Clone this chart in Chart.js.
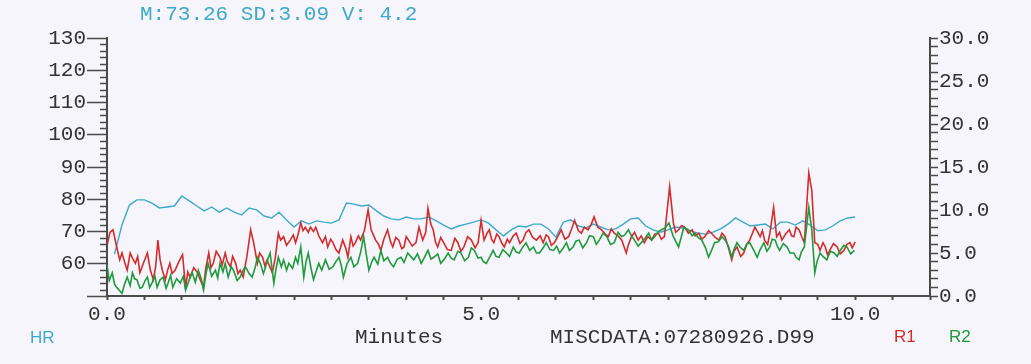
<!DOCTYPE html>
<html>
<head>
<meta charset="utf-8">
<script src="https://cdn.jsdelivr.net/npm/chart.js@4.4.1/dist/chart.umd.min.js"></script>
<style>
  html, body { margin: 0; padding: 0; background: #f5f5fb; }
  canvas { display: block; background: #f5f5fb; }
</style>
</head>
<body>
<canvas id="hr-chart" width="1031" height="364"></canvas>
<script>
// heart rate (left axis, bpm), one reading every 0.1 min
const hrTimes = [
  0.1, 0.2, 0.3, 0.4, 0.5, 0.6, 0.7, 0.8, 0.9, 1.0,
  1.1, 1.2, 1.3, 1.4, 1.5, 1.6, 1.7, 1.8, 1.9, 2.0,
  2.1, 2.2, 2.3, 2.4, 2.5, 2.6, 2.7, 2.8, 2.9, 3.0,
  3.1, 3.2, 3.3, 3.4, 3.5, 3.6, 3.7, 3.8, 3.9, 4.0,
  4.1, 4.2, 4.3, 4.4, 4.5, 4.6, 4.7, 4.8, 4.9, 5.0,
  5.1, 5.2, 5.3, 5.4, 5.5, 5.6, 5.7, 5.8, 5.9, 6.0,
  6.1, 6.2, 6.3, 6.4, 6.5, 6.6, 6.7, 6.8, 6.9, 7.0,
  7.1, 7.2, 7.3, 7.4, 7.5, 7.6, 7.7, 7.8, 7.9, 8.0,
  8.1, 8.2, 8.3, 8.4, 8.5, 8.6, 8.7, 8.8, 8.9, 9.0,
  9.1, 9.2, 9.3, 9.4, 9.5, 9.6, 9.7, 9.8, 9.9, 10.0
];
const hrValues = [
  63.0, 72.0, 78.2, 79.8, 79.8, 78.8, 77.3, 77.6, 77.9, 81.0,
  79.5, 77.9, 76.4, 77.6, 76.0, 77.3, 76.0, 75.1, 77.3, 76.7,
  74.8, 74.2, 76.0, 73.6, 71.4, 73.3, 72.3, 73.3, 72.9, 72.6,
  73.6, 78.8, 78.5, 77.9, 78.2, 76.4, 74.8, 73.9, 73.6, 74.5,
  73.9, 73.9, 74.5, 73.3, 72.0, 70.8, 71.7, 72.3, 72.9, 73.6,
  72.6, 70.5, 68.6, 70.5, 71.7, 71.4, 72.3, 72.3, 70.8, 68.3,
  72.9, 73.6, 71.7, 71.1, 72.3, 71.4, 70.5, 70.8, 72.3, 73.9,
  74.2, 71.7, 70.5, 69.8, 70.5, 71.4, 71.1, 70.2, 69.5, 69.2,
  69.8, 70.8, 72.3, 74.2, 72.9, 71.7, 72.0, 72.3, 70.8, 72.9,
  72.9, 72.0, 73.3, 72.0, 70.2, 70.5, 71.7, 73.3, 74.2, 74.5
];

// R1 (right axis)
const r1Times = [
  0.00, 0.04, 0.08, 0.13, 0.17, 0.20, 0.24, 0.27, 0.31, 0.34,
  0.38, 0.41, 0.44, 0.49, 0.54, 0.58, 0.62, 0.65, 0.68, 0.71,
  0.74, 0.78, 0.81, 0.84, 0.87, 0.91, 0.96, 1.01, 1.05, 1.08,
  1.11, 1.16, 1.21, 1.25, 1.29, 1.32, 1.36, 1.39, 1.42, 1.46,
  1.51, 1.54, 1.58, 1.61, 1.65, 1.68, 1.72, 1.75, 1.78, 1.82,
  1.87, 1.92, 1.96, 2.01, 2.04, 2.08, 2.11, 2.14, 2.18, 2.21,
  2.25, 2.29, 2.32, 2.36, 2.40, 2.45, 2.49, 2.52, 2.55, 2.59,
  2.62, 2.65, 2.69, 2.72, 2.76, 2.79, 2.83, 2.88, 2.92, 2.95,
  2.99, 3.02, 3.06, 3.10, 3.15, 3.19, 3.22, 3.26, 3.29, 3.32,
  3.36, 3.39, 3.44, 3.49, 3.53, 3.56, 3.59, 3.63, 3.66, 3.70,
  3.75, 3.79, 3.82, 3.86, 3.90, 3.94, 3.97, 4.00, 4.03, 4.08,
  4.13, 4.17, 4.22, 4.26, 4.29, 4.33, 4.36, 4.39, 4.42, 4.46,
  4.50, 4.55, 4.60, 4.65, 4.69, 4.73, 4.77, 4.82, 4.87, 4.92,
  4.96, 5.00, 5.04, 5.08, 5.11, 5.14, 5.17, 5.21, 5.24, 5.28,
  5.31, 5.35, 5.38, 5.43, 5.47, 5.52, 5.56, 5.60, 5.64, 5.69,
  5.74, 5.79, 5.83, 5.87, 5.90, 5.94, 5.98, 6.03, 6.07, 6.12,
  6.17, 6.21, 6.25, 6.30, 6.34, 6.38, 6.43, 6.47, 6.51, 6.56,
  6.61, 6.66, 6.70, 6.74, 6.78, 6.83, 6.88, 6.94, 6.97, 7.01,
  7.05, 7.10, 7.14, 7.18, 7.23, 7.28, 7.32, 7.37, 7.41, 7.45,
  7.52, 7.57, 7.60, 7.64, 7.68, 7.72, 7.77, 7.82, 7.86, 7.91,
  7.95, 7.99, 8.04, 8.08, 8.13, 8.18, 8.22, 8.26, 8.30, 8.35,
  8.38, 8.42, 8.47, 8.51, 8.55, 8.59, 8.66, 8.73, 8.76, 8.79,
  8.83, 8.86, 8.91, 8.95, 8.99, 9.02, 9.07, 9.12, 9.15, 9.18,
  9.21, 9.25, 9.29, 9.32, 9.38, 9.42, 9.46, 9.50, 9.53, 9.57,
  9.60, 9.63, 9.66, 9.71, 9.76, 9.80, 9.85, 9.89, 9.93, 9.96,
  10.00
];
const r1Values = [
  5.9, 7.4, 7.7, 5.7, 4.2, 5.0, 3.8, 3.0, 5.0, 4.4,
  3.8, 4.6, 2.7, 3.9, 5.0, 3.0, 1.9, 3.4, 6.5, 4.2,
  3.0, 1.9, 3.0, 3.8, 2.6, 3.0, 4.0, 4.8, 1.0, 2.8,
  2.2, 3.3, 2.7, 1.8, 1.0, 3.2, 5.0, 3.3, 3.8, 5.2,
  4.5, 3.6, 5.0, 4.0, 3.4, 4.6, 3.8, 2.6, 3.0, 2.2,
  4.6, 7.7, 6.2, 3.8, 5.0, 4.5, 3.5, 4.2, 3.3, 2.7,
  4.5, 7.3, 6.5, 6.9, 5.9, 6.5, 7.1, 6.2, 7.0, 8.5,
  7.6, 8.0, 7.4, 8.0, 7.5, 8.0, 7.0, 6.2, 6.9, 5.7,
  6.6, 6.2, 5.4, 5.0, 6.5, 5.6, 4.5, 6.9, 5.8, 6.2,
  7.0, 6.5, 7.6, 10.0, 7.7, 7.1, 6.5, 6.0, 5.3, 6.6,
  7.7, 6.3, 5.7, 6.8, 6.5, 5.5, 5.7, 6.9, 6.5, 5.8,
  6.2, 8.0, 6.5, 7.4, 10.2, 8.3, 7.7, 6.3, 5.7, 6.8,
  6.2, 5.4, 5.3, 6.7, 6.2, 5.2, 5.7, 6.9, 6.5, 5.6,
  6.2, 8.8, 6.5, 7.3, 7.7, 6.6, 6.2, 7.2, 6.9, 6.1,
  5.7, 6.6, 6.2, 7.0, 7.3, 6.1, 6.5, 7.4, 7.7, 6.8,
  6.5, 7.0, 6.2, 7.1, 6.9, 5.9, 6.2, 7.0, 7.7, 6.6,
  6.9, 7.8, 8.8, 7.6, 7.3, 8.0, 7.7, 8.3, 9.2, 8.0,
  7.7, 7.2, 6.9, 7.8, 7.3, 7.0, 6.5, 5.0, 6.0, 6.9,
  7.4, 6.5, 7.0, 6.2, 6.9, 6.5, 7.2, 7.3, 6.6, 6.9,
  12.7, 8.5, 7.4, 7.7, 8.2, 8.0, 7.3, 7.7, 7.0, 7.3,
  6.6, 6.9, 7.6, 7.3, 6.8, 6.5, 7.3, 6.9, 5.8, 4.2,
  5.2, 5.7, 4.6, 5.0, 6.0, 6.5, 8.0, 6.9, 7.6, 6.5,
  6.0, 7.3, 10.3, 6.9, 7.4, 6.5, 7.2, 7.7, 7.0, 6.9,
  8.0, 7.7, 6.8, 6.2, 14.3, 12.3, 6.2, 6.0, 5.3, 6.2,
  5.7, 4.8, 5.3, 6.1, 5.7, 4.9, 5.3, 6.0, 6.2, 5.6,
  6.3
];

// R2 (right axis)
const r2Times = [
  0.00, 0.03, 0.07, 0.10, 0.13, 0.17, 0.20, 0.24, 0.27, 0.31,
  0.34, 0.37, 0.40, 0.44, 0.47, 0.51, 0.54, 0.57, 0.60, 0.64,
  0.67, 0.71, 0.75, 0.79, 0.82, 0.85, 0.88, 0.93, 0.98, 1.02,
  1.05, 1.10, 1.14, 1.18, 1.22, 1.26, 1.29, 1.32, 1.35, 1.40,
  1.45, 1.48, 1.51, 1.55, 1.58, 1.62, 1.66, 1.69, 1.74, 1.78,
  1.82, 1.85, 1.90, 1.94, 1.98, 2.01, 2.05, 2.09, 2.12, 2.15,
  2.18, 2.23, 2.26, 2.29, 2.33, 2.36, 2.40, 2.43, 2.48, 2.52,
  2.55, 2.59, 2.63, 2.66, 2.69, 2.73, 2.76, 2.80, 2.83, 2.87,
  2.92, 2.97, 3.02, 3.06, 3.10, 3.13, 3.16, 3.21, 3.26, 3.30,
  3.35, 3.39, 3.43, 3.47, 3.50, 3.54, 3.57, 3.62, 3.66, 3.70,
  3.75, 3.79, 3.83, 3.88, 3.93, 3.97, 4.02, 4.06, 4.10, 4.15,
  4.20, 4.25, 4.29, 4.33, 4.37, 4.42, 4.46, 4.51, 4.56, 4.60,
  4.64, 4.69, 4.73, 4.78, 4.83, 4.87, 4.91, 4.96, 5.00, 5.03,
  5.07, 5.12, 5.16, 5.20, 5.24, 5.29, 5.34, 5.38, 5.43, 5.47,
  5.51, 5.55, 5.60, 5.65, 5.70, 5.74, 5.78, 5.83, 5.87, 5.92,
  5.97, 6.01, 6.05, 6.10, 6.14, 6.18, 6.23, 6.27, 6.31, 6.36,
  6.41, 6.45, 6.50, 6.54, 6.58, 6.63, 6.68, 6.73, 6.78, 6.83,
  6.88, 6.92, 6.97, 7.01, 7.05, 7.10, 7.14, 7.19, 7.24, 7.28,
  7.32, 7.37, 7.41, 7.46, 7.51, 7.57, 7.64, 7.71, 7.77, 7.82,
  7.86, 7.90, 7.95, 8.00, 8.04, 8.08, 8.12, 8.17, 8.22, 8.27,
  8.31, 8.35, 8.38, 8.42, 8.46, 8.51, 8.55, 8.59, 8.64, 8.69,
  8.73, 8.78, 8.82, 8.86, 8.89, 8.93, 8.96, 8.99, 9.04, 9.09,
  9.13, 9.18, 9.21, 9.25, 9.28, 9.32, 9.38, 9.42, 9.46, 9.49,
  9.53, 9.57, 9.62, 9.67, 9.72, 9.76, 9.80, 9.85, 9.89, 9.94,
  9.99
];
const r2Values = [
  3.6, 1.8, 2.7, 1.4, 1.0, 0.6, 0.3, 1.5, 2.2, 1.2,
  2.7, 2.0, 1.9, 0.9, 1.0, 1.8, 2.2, 1.0, 1.5, 2.3,
  1.0, 1.9, 2.2, 0.9, 1.6, 2.4, 1.0, 2.0, 1.5, 2.3,
  0.7, 1.9, 2.7, 1.6, 3.0, 2.0, 0.7, 2.4, 3.8, 2.3,
  3.0, 2.1, 3.8, 2.8, 3.8, 2.2, 3.4, 3.0, 1.8, 2.2,
  3.0, 3.4, 2.6, 2.2, 3.3, 4.5, 3.8, 2.6, 3.4, 4.3,
  5.0, 1.5, 3.2, 4.5, 3.4, 4.2, 3.0, 3.8, 3.2, 4.5,
  3.8, 5.7, 2.2, 4.0, 5.0, 3.1, 1.9, 3.0, 3.8, 3.0,
  4.2, 3.1, 3.4, 4.0, 4.5, 3.6, 2.2, 3.8, 4.5, 3.4,
  3.8, 5.1, 6.9, 4.6, 3.0, 4.0, 4.5, 3.7, 5.3, 4.1,
  4.5, 3.8, 3.4, 4.3, 4.5, 3.9, 5.0, 4.6, 4.2, 4.9,
  3.8, 4.6, 5.3, 4.3, 4.5, 4.9, 3.8, 4.3, 5.0, 4.4,
  4.2, 5.2, 5.0, 4.1, 4.5, 5.6, 5.3, 4.4, 4.5, 4.0,
  3.8, 4.6, 5.3, 4.6, 4.5, 5.4, 5.0, 4.6, 5.7, 5.1,
  5.0, 5.6, 6.2, 5.3, 5.7, 5.0, 5.0, 5.6, 6.2, 5.4,
  5.3, 5.8, 5.0, 5.6, 6.2, 5.3, 5.7, 6.4, 6.5, 5.6,
  6.2, 7.0, 6.9, 6.0, 6.5, 7.3, 6.9, 6.0, 6.2, 7.4,
  6.9, 7.1, 7.7, 7.0, 6.5, 5.8, 6.2, 6.7, 7.3, 6.5,
  6.9, 7.5, 7.7, 7.9, 8.5, 6.9, 5.7, 8.0, 7.7, 7.0,
  7.3, 6.8, 6.5, 5.6, 4.5, 5.3, 6.2, 6.3, 6.9, 6.4,
  5.7, 4.5, 5.4, 6.2, 5.7, 5.3, 6.0, 6.2, 5.4, 4.5,
  5.4, 6.2, 5.2, 5.7, 6.6, 6.5, 5.8, 5.3, 6.1, 5.7,
  5.0, 5.0, 4.5, 4.2, 5.1, 5.7, 10.3, 7.7, 2.7, 4.0,
  5.0, 4.6, 4.2, 5.2, 5.0, 4.6, 5.3, 5.9, 5.7, 4.9,
  5.3
];

const statsText = 'M:73.26 SD:3.09 V: 4.2';
const xTitle = 'Minutes';
const fileText = 'MISCDATA:07280926.D99';
const hrLabel = 'HR';
const r1Label = 'R1';
const r2Label = 'R2';

const CYAN = '#3fa9cc';
const RED = '#d42b2b';
const GREEN = '#1f9a3c';
const AXIS = '#4a4a4a';
const TEXT = '#333333';
const MONO = '"Liberation Mono", "DejaVu Sans Mono", monospace';

function points(times, values) {
  return times.map((t, i) => ({ x: t, y: values[i] }));
}

// short ticks on the left axis between the labelled ones, plus the loose texts
const extras = {
  id: 'extras',
  afterDraw(chart) {
    const ctx = chart.ctx;
    const yl = chart.scales.y;
    ctx.save();
    ctx.strokeStyle = AXIS;
    ctx.lineWidth = 1.5;
    for (let v = 52; v < 130; v += 2) {
      if (v % 10 === 0) continue;
      const py = Math.round(yl.getPixelForValue(v)) + 0.5;
      ctx.beginPath();
      ctx.moveTo(yl.right - 7, py);
      ctx.lineTo(yl.right + 1, py);
      ctx.stroke();
    }

    ctx.textBaseline = 'middle';
    ctx.textAlign = 'left';
    ctx.font = '21px ' + MONO;
    ctx.fillStyle = CYAN;
    ctx.fillText(statsText, 140, 14);
    ctx.fillStyle = TEXT;
    ctx.fillText(xTitle, 355, 337);
    ctx.fillText(fileText, 550, 337);

    ctx.font = '17px "Liberation Sans", Arial, sans-serif';
    ctx.fillStyle = CYAN;
    ctx.fillText(hrLabel, 30, 338);
    ctx.fillStyle = RED;
    ctx.fillText(r1Label, 894, 337);
    ctx.fillStyle = GREEN;
    ctx.fillText(r2Label, 949, 337);
    ctx.restore();
  }
};

new Chart(document.getElementById('hr-chart'), {
  type: 'line',
  data: {
    datasets: [
      { label: r2Label, data: points(r2Times, r2Values), yAxisID: 'y1',
        borderColor: GREEN, borderWidth: 1.6, order: 0 },
      { label: r1Label, data: points(r1Times, r1Values), yAxisID: 'y1',
        borderColor: RED, borderWidth: 1.6, order: 1 },
      { label: hrLabel, data: points(hrTimes, hrValues), yAxisID: 'y',
        borderColor: CYAN, borderWidth: 1.4, order: 2 }
    ]
  },
  options: {
    responsive: false,
    animation: false,
    devicePixelRatio: 1,
    parsing: false,
    elements: { point: { radius: 0 }, line: { tension: 0, fill: false } },
    layout: { padding: { top: 38, left: 0, right: 0, bottom: 0 } },
    plugins: { legend: { display: false }, tooltip: { enabled: false }, title: { display: false } },
    scales: {
      x: {
        type: 'linear',
        min: 0, max: 11,
        afterFit: (s) => { s.height = 68; },
        border: { display: true, color: AXIS, width: 2 },
        grid: { drawOnChartArea: false, tickLength: 4, tickWidth: 2, tickColor: AXIS },
        ticks: {
          stepSize: 0.5, autoSkip: false, maxRotation: 0, padding: 2,
          color: TEXT, font: { family: MONO, size: 21 },
          callback: (v) => (v % 5 === 0 && v <= 10) ? v.toFixed(1) : ''
        }
      },
      y: {
        position: 'left',
        min: 50, max: 130,
        afterFit: (s) => { s.width = 107; },
        border: { display: true, color: AXIS, width: 2 },
        grid: {
          drawOnChartArea: false, tickLength: 20, tickWidth: 1.5,
          tickColor: (c) => (c.tick && c.tick.value % 10 === 0) ? AXIS : 'rgba(0,0,0,0)'
        },
        ticks: {
          stepSize: 2, autoSkip: false, padding: 1,
          color: TEXT, font: { family: MONO, size: 21 },
          callback: (v) => (v % 10 === 0 && v > 50) ? String(v) : ''
        }
      },
      y1: {
        position: 'right',
        min: 0, max: 30,
        afterFit: (s) => { s.width = 101; },
        border: { display: true, color: AXIS, width: 2 },
        grid: { drawOnChartArea: false, tickLength: 8, tickWidth: 1.5, tickColor: AXIS },
        ticks: {
          stepSize: 1, autoSkip: false, padding: 1,
          color: TEXT, font: { family: MONO, size: 21 },
          callback: (v) => (v % 5 === 0) ? v.toFixed(1) : ''
        }
      }
    }
  },
  plugins: [extras]
});
</script>
</body>
</html>
